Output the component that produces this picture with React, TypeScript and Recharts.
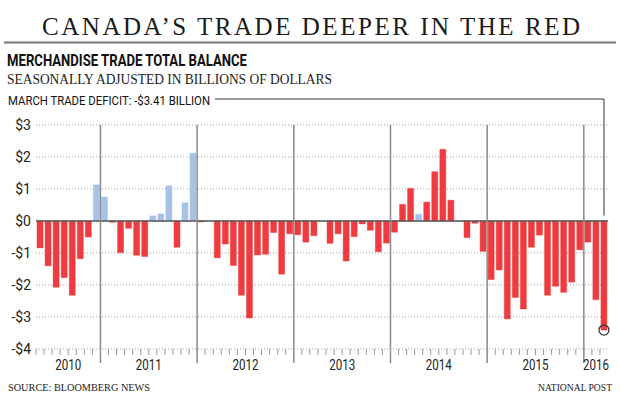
import React from 'react';
import { BarChart, Bar, XAxis, YAxis, CartesianGrid, ReferenceLine, ReferenceDot, Cell } from 'recharts';

const monthNames = ['Jan', 'Feb', 'Mar', 'Apr', 'May', 'Jun', 'Jul', 'Aug', 'Sep', 'Oct', 'Nov', 'Dec'];

// merchandise trade balance, $ billions, seasonally adjusted
// 2010 starts in May, 2016 ends in March
const balance2010 = [-0.84, -1.4, -2.07, -1.77, -2.32, -1.18, -0.5, 1.13];
const balance2011 = [0.75, -0.04, -0.99, -0.23, -1.07, -1.11, 0.16, 0.22, 1.1, -0.82, 0.57, 2.12];
const balance2012 = [-0.03, 0, -1.15, -0.72, -1.39, -2.32, -3.03, -1.06, -1.04, -0.36, -1.66, -0.4];
const balance2013 = [-0.43, -0.66, -0.46, 0, -0.7, -0.4, -1.25, -0.49, -0.09, -0.29, -0.96, -0.69];
const balance2014 = [-0.35, 0.52, 1.02, 0.21, 0.59, 1.54, 2.24, 0.65, 0, -0.52, -0.07, -0.95];
const balance2015 = [-1.83, -1.53, -3.06, -2.39, -2.75, -0.82, -0.44, -2.32, -2.04, -2.23, -1.91, -0.9];
const balance2016 = [-0.66, -2.46, -3.41];

const yearBlocks = [
  { year: 2010, firstMonth: 4, values: balance2010 },
  { year: 2011, firstMonth: 0, values: balance2011 },
  { year: 2012, firstMonth: 0, values: balance2012 },
  { year: 2013, firstMonth: 0, values: balance2013 },
  { year: 2014, firstMonth: 0, values: balance2014 },
  { year: 2015, firstMonth: 0, values: balance2015 },
  { year: 2016, firstMonth: 0, values: balance2016 },
];

// months drawn in light blue in the original
const blueMonths = ['Dec 2010', 'Jan 2011', 'Jul 2011', 'Aug 2011', 'Sep 2011', 'Nov 2011', 'Dec 2011', 'Apr 2014'];

const yTicks = [-4, -3, -2, -1, 0, 1, 2, 3];
const lastMonth = 'Mar 2016';
const lastValue = -3.41;

const data = yearBlocks.flatMap((b) =>
  b.values.map((v, i) => ({ month: `${monthNames[b.firstMonth + i]} ${b.year}`, year: b.year, balance: v }))
);

// tick index -> year label (half = label sits between two months)
const yearLabelAt: Record<number, { year: number; half: boolean }> = {};
yearBlocks.forEach((b) => {
  const first = data.findIndex((d) => d.year === b.year);
  const mid = first + (b.values.length - 1) / 2;
  yearLabelAt[Math.floor(mid)] = { year: b.year, half: mid % 1 !== 0 };
});

const W = 620;
const H = 406;
const PLOT_LEFT = 36;
const PLOT_RIGHT = 608;
const STEP = (PLOT_RIGHT - PLOT_LEFT) / data.length;

const RED = '#ee3b3f';
const BLUE = '#a7c2e6';
const SANS = "Roboto, 'Liberation Sans', sans-serif";
const SERIF = "'Liberation Serif', 'DejaVu Serif', serif";

const LEADER_X0 = 215;
const LEADER_Y = 99;

function MonthTick(props: any) {
  const { x, y, index } = props;
  const lab = yearLabelAt[index];
  return (
    <g>
      <line x1={x - STEP / 2} x2={x - STEP / 2} y1={y} y2={y + 6} stroke="#999" strokeWidth={1} />
      {lab && (
        <text
          x={x + (lab.half ? STEP / 2 : 0) - 13}
          y={y + 21}
          fontFamily={SANS}
          fontSize={14}
          textLength={26}
          lengthAdjust="spacingAndGlyphs"
          fill="#222"
        >
          {lab.year}
        </text>
      )}
    </g>
  );
}

function YearDivider(props: any) {
  const { x1, y1, x2, y2 } = props;
  const top = Math.min(y1, y2);
  const bottom = Math.max(y1, y2);
  return <line x1={x1} x2={x2} y1={top} y2={bottom + 14} stroke="#8a8a8a" strokeWidth={1.5} />;
}

function Leader(props: any) {
  const { x1, y1, y2 } = props;
  const bottom = Math.max(y1, y2);
  return (
    <polyline
      points={`${LEADER_X0},${LEADER_Y} ${x1},${LEADER_Y} ${x1},${bottom}`}
      fill="none"
      stroke="#333"
      strokeWidth={1}
    />
  );
}

const fmtY = (v: number) => (v < 0 ? `-$${-v}` : `$${v}`);

export default function App() {
  return (
    <div style={{ position: 'absolute', left: 0, top: 0, width: W, height: H, background: '#fff' }}>
      <div style={{ position: 'absolute', left: 0, top: 0 }}>
        <BarChart
          width={W}
          height={H}
          data={data}
          margin={{ top: 125, right: W - PLOT_RIGHT, left: 0, bottom: 27 }}
          barCategoryGap={1}
        >
          <CartesianGrid horizontal vertical={false} stroke="#9a9a9a" strokeDasharray="1 2" />
          <XAxis
            dataKey="month"
            interval={0}
            height={30}
            tickLine={false}
            axisLine={false}
            tickSize={0}
            tickMargin={0}
            tick={<MonthTick />}
          />
          <YAxis
            type="number"
            domain={[-4, 3]}
            ticks={yTicks}
            width={PLOT_LEFT}
            tickLine={false}
            axisLine={false}
            tickSize={4}
            tickMargin={1}
            tickFormatter={fmtY}
            tick={{ fontFamily: SANS, fontSize: 14, fill: '#222' }}
          />
          <Bar dataKey="balance" isAnimationActive={false}>
            {data.map((d) => {
              const c = blueMonths.includes(d.month) ? BLUE : RED;
              return <Cell key={d.month} fill={c} stroke={c} strokeOpacity={0.45} strokeWidth={1} />;
            })}
          </Bar>
          <ReferenceLine y={0} stroke="#555" strokeWidth={1.5} />
          {yearBlocks.slice(1).map((b) => (
            <ReferenceLine key={b.year} x={`Jan ${b.year}`} position="start" shape={<YearDivider />} />
          ))}
          <ReferenceLine
            segment={[{ x: lastMonth, y: 3 }, { x: lastMonth, y: 0.17 }]}
            shape={<Leader />}
            ifOverflow="visible"
          />
          <ReferenceDot x={lastMonth} y={lastValue} r={5} fill="none" stroke="#333" strokeWidth={1.3} />
        </BarChart>
      </div>

      <svg width={W} height={H} style={{ position: 'absolute', left: 0, top: 0, pointerEvents: 'none' }}>
        <text x={42} y={35} fontFamily={SERIF} fontSize={25} fill="#1a1a1a" textLength={538} lengthAdjust="spacing">
          CANADA’S TRADE DEEPER IN THE RED
        </text>
        <line x1={4} x2={616} y1={42.5} y2={42.5} stroke="#777" strokeWidth={2} />
        <text x={7} y={66} fontFamily={SANS} fontWeight={700} fontSize={17} fill="#111" textLength={240} lengthAdjust="spacingAndGlyphs">
          MERCHANDISE TRADE TOTAL BALANCE
        </text>
        <text x={7} y={84} fontFamily={SERIF} fontSize={14} fill="#222" textLength={325} lengthAdjust="spacingAndGlyphs">
          SEASONALLY ADJUSTED IN BILLIONS OF DOLLARS
        </text>
        <text x={8} y={104.5} fontFamily={SANS} fontSize={13} fill="#111" textLength={202} lengthAdjust="spacingAndGlyphs">
          MARCH TRADE DEFICIT: -$3.41 BILLION
        </text>
        <text x={8} y={391} fontFamily={SERIF} fontSize={10} fill="#222" textLength={142} lengthAdjust="spacingAndGlyphs">
          SOURCE: BLOOMBERG NEWS
        </text>
        <text x={612} y={391} textAnchor="end" fontFamily={SERIF} fontSize={10} fill="#222" textLength={74} lengthAdjust="spacingAndGlyphs">
          NATIONAL POST
        </text>
      </svg>
    </div>
  );
}
